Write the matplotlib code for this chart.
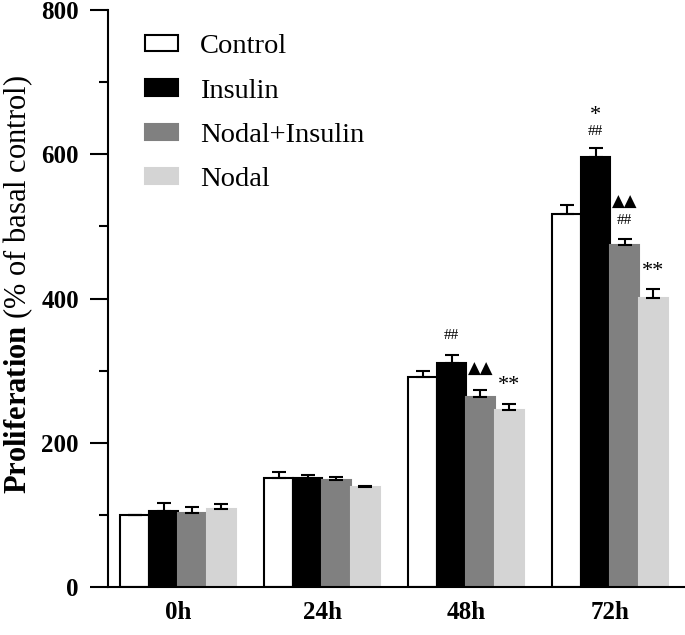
import numpy as np
import matplotlib
matplotlib.use("Agg")
import matplotlib.pyplot as plt
from matplotlib.ticker import MultipleLocator

plt.rcParams['font.family'] = ['Liberation Serif', 'DejaVu Sans']
plt.rcParams['mathtext.fontset'] = 'custom'
plt.rcParams['mathtext.rm'] = 'Liberation Serif'
plt.rcParams['mathtext.bf'] = 'Liberation Serif:bold'

times = ['0h', '24h', '48h', '72h']
groups = ['Control', 'Insulin', 'Nodal+Insulin', 'Nodal']
control = [100, 151, 291, 517]
insulin = [105, 151, 310, 596]
nodal_insulin = [102, 149, 263, 474]
nodal = [108, 139, 246, 401]
control_err = [0, 8, 8, 13]
insulin_err = [11, 4, 11, 13]
nodal_insulin_err = [9, 4, 10, 9]
nodal_err = [7, 1, 8, 12]

# significance marks: (group index, series index, y, text)
marks = [
    (2, 1, 349, '##'),
    (2, 2, 302, '▲▲'),
    (2, 3, 280, '**'),
    (3, 1, 654, '*'),
    (3, 1, 632, '##'),
    (3, 2, 534, '▲▲'),
    (3, 2, 508, '##'),
    (3, 3, 438, '**'),
]

values = [control, insulin, nodal_insulin, nodal]
errs = [control_err, insulin_err, nodal_insulin_err, nodal_err]
colors = ['white', 'black', '#808080', '#d4d4d4']
edges = ['black', 'black', '#808080', '#d4d4d4']

fig = plt.figure(figsize=(6.85, 6.35), dpi=100)
ax = fig.add_axes([108/685, 48/635, 577/685, 577/635])

x = np.arange(len(times))
w = 0.2
offs = [-1.5*w, -0.5*w, 0.5*w, 1.5*w]
for i in range(4):
    ax.bar(x + offs[i], values[i], w, color=colors[i], edgecolor=edges[i],
           linewidth=1.5, label=groups[i])
    ax.errorbar(x + offs[i], values[i], yerr=[np.zeros(4), errs[i]], fmt='none',
                ecolor='black', elinewidth=1.5, capsize=5, capthick=1.5)

for g, s, y, t in marks:
    if '▲' in t:
        ax.text(x[g] + offs[s], y, t, ha='center', va='center', fontsize=12,
                family='DejaVu Sans')
    else:
        fs = 11 if '#' in t else 16
        ax.text(x[g] + offs[s], y, t, ha='center', va='center', fontsize=fs)

ax.set_xlim(-0.486, 3.52)
ax.set_ylim(0, 800)
ax.yaxis.set_major_locator(MultipleLocator(200))
ax.yaxis.set_minor_locator(MultipleLocator(100))
ax.set_xticks(x)
ax.set_xticklabels(times, fontweight='bold', fontsize=18)
ax.tick_params(axis='x', length=0, pad=10)
ax.tick_params(axis='y', which='major', length=13, width=1.5, labelsize=18, pad=8)
ax.tick_params(axis='y', which='minor', length=6.5, width=1.5)
for lab in ax.get_yticklabels():
    lab.set_fontweight('bold')
ax.spines['top'].set_visible(False)
ax.spines['right'].set_visible(False)
ax.spines['left'].set_linewidth(1.5)
ax.spines['bottom'].set_linewidth(1.5)

ax.legend(loc='upper left', bbox_to_anchor=(0.064, 0.958), frameon=False, fontsize=20.5,
          borderpad=0, borderaxespad=0, handlelength=1.16, handleheight=0.5,
          labelspacing=0.68, handletextpad=0.77)

fig.text(18/685, (635 - 285)/635, r'$\mathbf{Proliferation}$ (% of basal control)',
         rotation=90, fontsize=22, ha='center', va='center')

fig.savefig('out.png', dpi=100)
